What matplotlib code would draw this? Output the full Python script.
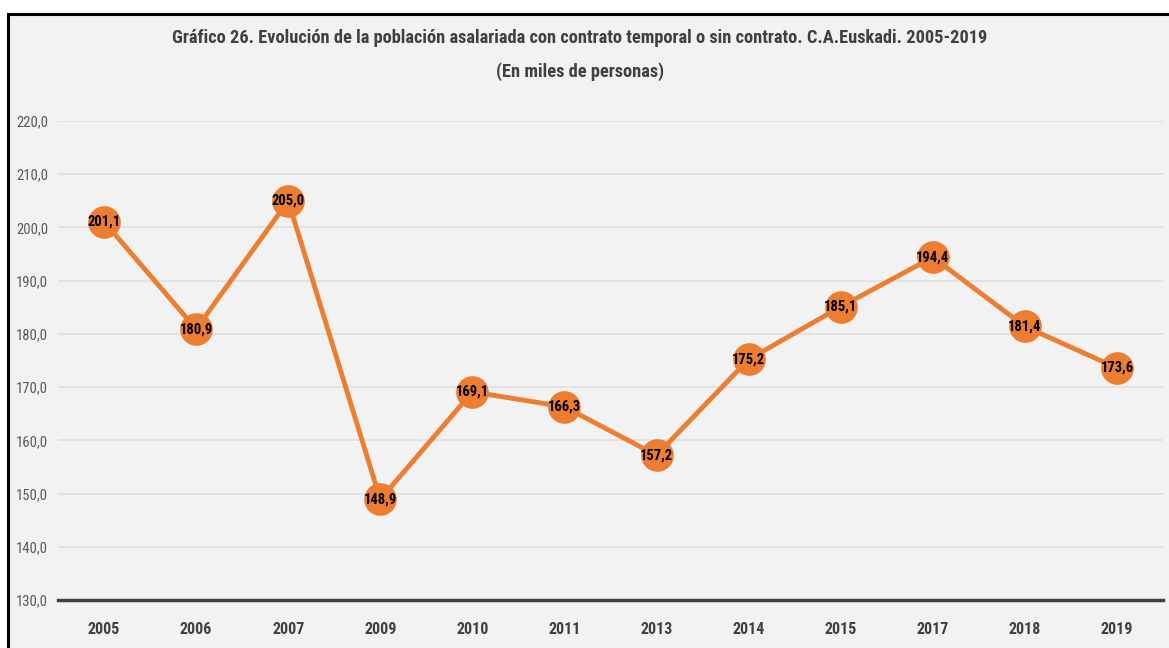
import matplotlib
matplotlib.use("Agg")
import matplotlib.pyplot as plt
from matplotlib import font_manager
from matplotlib.patches import Rectangle

years = ["2005", "2006", "2007", "2009", "2010", "2011", "2013", "2014", "2015", "2017", "2018", "2019"]
values = [201.1, 180.9, 205.0, 148.9, 169.1, 166.3, 157.2, 175.2, 185.1, 194.4, 181.4, 173.6]
yticks = [130, 140, 150, 160, 170, 180, 190, 200, 210, 220]
title = "Gráfico 26. Evolución de la población asalariada con contrato temporal o sin contrato. C.A.Euskadi. 2005-2019\n(En miles de personas)"

avail = {f.name for f in font_manager.fontManager.ttflist}
fam = None
for cand in ["Liberation Sans Narrow", "DejaVu Sans Condensed", "Roboto Condensed", "Open Sans Condensed", "Liberation Sans"]:
    if cand in avail:
        fam = cand
        break
plt.rcParams["font.family"] = [fam, "DejaVu Sans"]

W, H = 1169, 648
fig = plt.figure(figsize=(W / 100, H / 100), dpi=100)
fig.patch.set_facecolor("white")
fig.patches.append(Rectangle((8 / W, -0.1), 1.2, (H - 14) / H + 0.1, transform=fig.transFigure,
                             facecolor="#f2f2f2", edgecolor="black", lw=2.2, zorder=-5))

ax = fig.add_axes([58 / W, 1 - 600 / H, (1163 - 58) / W, (600 - 121) / H])
ax.set_facecolor("none")
x = list(range(len(years)))
ax.plot(x, values, color="#ED7D31", lw=3.5, marker="o", markersize=22.5, zorder=3, solid_capstyle="round")
for xi, v in zip(x, values):
    ax.text(xi, v, f"{v:.1f}".replace(".", ","), ha="center", va="center", fontsize=10.5,
            fontweight="bold", color="black", zorder=4)

ax.set_xlim(-0.5, len(years) - 0.5)
ax.set_ylim(130, 220)
ax.set_yticks(yticks)
ax.set_yticklabels([f"{t:.1f}".replace(".", ",") for t in yticks], color="#595959", fontsize=10.5)
ax.set_xticks(x)
ax.set_xticklabels(years, color="#404040", fontsize=11.5, fontweight="bold")
ax.tick_params(axis="both", length=0)
ax.tick_params(axis="x", pad=16)
ax.tick_params(axis="y", pad=7)
ax.grid(axis="y", color="#dedede", lw=1.1)
ax.set_axisbelow(True)
for s in ["top", "right", "left"]:
    ax.spines[s].set_visible(False)
ax.spines["bottom"].set_color("#404040")
ax.spines["bottom"].set_linewidth(2.5)

fig.text(580 / W, 1 - 55 / H, title, ha="center", va="center", fontsize=13.2, fontweight="bold",
         color="#404040", linespacing=2.0)

fig.savefig("out.png", dpi=100, facecolor=fig.get_facecolor())
